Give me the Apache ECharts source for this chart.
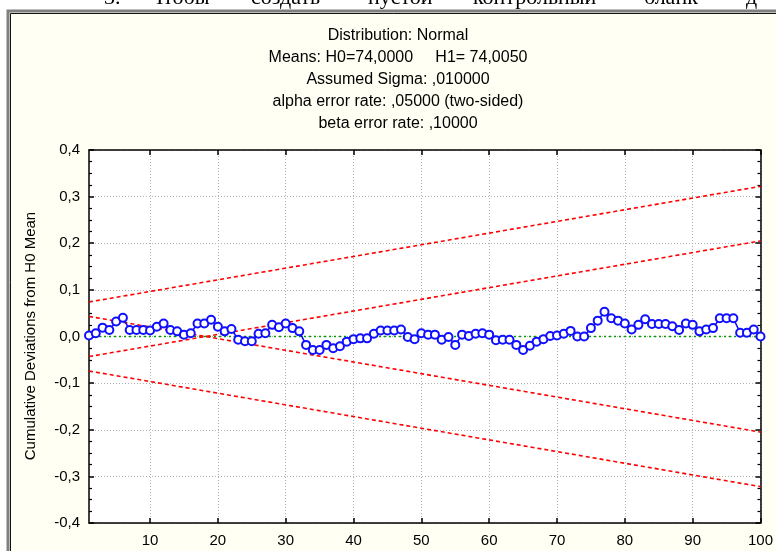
<!DOCTYPE html>
<html>
<head>
<meta charset="utf-8">
<script src="https://cdn.jsdelivr.net/npm/echarts@6/dist/echarts.min.js"></script>
<style>
  html, body { margin: 0; padding: 0; background: #ffffff; }
  #chart { width: 776px; height: 551px; }
</style>
</head>
<body>
<div id="chart"></div>
<script>
// Cumulative deviations from the H0 mean, samples 1..100
const cumulativeDeviations = [
  0.002, 0.007, 0.019, 0.014, 0.032, 0.040, 0.014, 0.014, 0.014, 0.013,
  0.021, 0.028, 0.014, 0.011, 0.004, 0.007, 0.028, 0.028, 0.036, 0.021,
  0.011, 0.016, -0.007, -0.010, -0.010, 0.006, 0.007, 0.025, 0.020, 0.028,
  0.018, 0.011, -0.018, -0.029, -0.029, -0.018, -0.025, -0.021, -0.011, -0.006,
  -0.004, -0.004, 0.006, 0.013, 0.013, 0.013, 0.015, -0.001, -0.006, 0.007,
  0.004, 0.004, -0.007, -0.001, -0.018, 0.004, 0.001, 0.006, 0.007, 0.004,
  -0.008, -0.007, -0.007, -0.018, -0.029, -0.020, -0.011, -0.006, 0.001, 0.002,
  0.006, 0.012, 0.000, 0.000, 0.018, 0.034, 0.053, 0.039, 0.034, 0.028,
  0.015, 0.025, 0.037, 0.027, 0.027, 0.027, 0.022, 0.014, 0.028, 0.025,
  0.011, 0.015, 0.018, 0.039, 0.039, 0.039, 0.008, 0.008, 0.015, 0.000
];
const sampleNumbers = cumulativeDeviations.map((_, i) => String(i + 1));

// Decision boundaries: value at the first and at the last sample
const boundaryEnds = ['1', '100'];
const upperOuterBoundary = [0.074, 0.322];
const upperInnerBoundary = [-0.043, 0.205];
const lowerInnerBoundary = [0.043, -0.205];
const lowerOuterBoundary = [-0.074, -0.322];
const targetLine = [0, 0];

const xTickLabels = [10, 20, 30, 40, 50, 60, 70, 80, 90, 100];
const yTickLabels = ['-0,4', '-0,3', '-0,2', '-0,1', '0,0', '0,1', '0,2', '0,3', '0,4'];

const titleLines = [
  'Distribution: Normal',
  'Means: H0=74,0000     H1= 74,0050',
  'Assumed Sigma: ,010000',
  'alpha error rate: ,05000 (two-sided)',
  'beta error rate: ,10000'
];
const headingWords = [
  ['3.', 104], ['Чтобы', 149], ['создать', 251], ['пустой', 368],
  ['контрольный', 473], ['бланк', 644], ['д', 746]
];

const FONT = '"Liberation Sans", Arial, sans-serif';
const isTickSample = (idx, val) => xTickLabels.indexOf(Number(val)) >= 0;

function pairs(values) {
  return boundaryEnds.map((x, i) => [x, values[i]]);
}

const chart = echarts.init(document.getElementById('chart'), null, { renderer: 'canvas' });

const graphics = [
  // window panel
  { type: 'rect', z: -10, shape: { x: 8, y: 11, width: 800, height: 600 },
    style: { fill: '#fffff4', stroke: '#7f7f7f', lineWidth: 3 } },
  { type: 'rect', z: -9, shape: { x: 10.5, y: 13.5, width: 800, height: 600 },
    style: { fill: null, stroke: '#111111', lineWidth: 1 } }
];
headingWords.forEach(([w, x]) => {
  graphics.push({ type: 'text', x: x, y: 9, style: {
    text: w, font: '22px "Liberation Serif", "Times New Roman", serif',
    fill: '#000', textAlign: 'left', textVerticalAlign: 'bottom' } });
});
titleLines.forEach((t, i) => {
  graphics.push({ type: 'text', x: 398, y: 36 + i * 22, style: {
    text: t, font: '16px ' + FONT, fill: '#000',
    textAlign: 'center', textVerticalAlign: 'middle' } });
});
graphics.push({ type: 'text', x: 31, y: 336, rotation: Math.PI / 2, style: {
  text: 'Cumulative Deviations from H0 Mean', font: '15px ' + FONT, fill: '#000',
  textAlign: 'center', textVerticalAlign: 'middle' } });

const redDash = { color: '#ff0000', width: 1.6, type: [4, 3] };

chart.setOption({
  backgroundColor: '#ffffff',
  animation: false,
  graphic: graphics,
  grid: { left: 89, top: 150, width: 673, height: 373, show: true,
          backgroundColor: '#ffffff', borderWidth: 0 },
  xAxis: [
    { type: 'category', data: sampleNumbers, boundaryGap: false, position: 'bottom',
      axisLine: { show: true, onZero: false, lineStyle: { color: '#000', width: 1.5 } },
      axisTick: { show: true, inside: true, length: 5, interval: isTickSample,
                  lineStyle: { color: '#000', width: 1.5 } },
      axisLabel: { show: true, interval: isTickSample, margin: 10, color: '#000',
                   fontSize: 15, fontFamily: FONT },
      splitLine: { show: true, interval: isTickSample,
                   lineStyle: { color: '#b0b0b0', width: 1, type: [1, 2] } } },
    { type: 'category', data: sampleNumbers, boundaryGap: false, position: 'top',
      axisLine: { show: true, onZero: false, lineStyle: { color: '#000', width: 1.5 } },
      axisTick: { show: true, inside: true, length: 5, interval: isTickSample,
                  lineStyle: { color: '#000', width: 1.5 } },
      axisLabel: { show: false }, splitLine: { show: false } }
  ],
  yAxis: [
    { type: 'value', min: -0.4, max: 0.4, interval: 0.1, position: 'left',
      axisLine: { show: true, onZero: false, lineStyle: { color: '#000', width: 1.5 } },
      axisTick: { show: true, inside: true, length: 5, lineStyle: { color: '#000', width: 1.5 } },
      minorTick: { show: true, splitNumber: 4, length: 3, lineStyle: { color: '#000', width: 1.2 } },
      axisLabel: { margin: 9, color: '#000', fontSize: 15, fontFamily: FONT,
                   formatter: (v) => yTickLabels[Math.round((v + 0.4) * 10)] },
      splitLine: { show: true, lineStyle: { color: '#b0b0b0', width: 1, type: [1, 2] } } },
    { type: 'value', min: -0.4, max: 0.4, interval: 0.1, position: 'right',
      axisLine: { show: true, onZero: false, lineStyle: { color: '#000', width: 1.5 } },
      axisTick: { show: true, inside: true, length: 5, lineStyle: { color: '#000', width: 1.5 } },
      minorTick: { show: true, splitNumber: 4, length: 3, lineStyle: { color: '#000', width: 1.2 } },
      axisLabel: { show: false }, splitLine: { show: false } }
  ],
  series: [
    { name: 'target', type: 'line', data: pairs(targetLine), symbol: 'none', z: 2,
      lineStyle: { color: '#00a000', width: 1.6, type: [2, 3] } },
    { name: 'upper outer', type: 'line', data: pairs(upperOuterBoundary), symbol: 'none', z: 3, lineStyle: redDash },
    { name: 'upper inner', type: 'line', data: pairs(upperInnerBoundary), symbol: 'none', z: 3, lineStyle: redDash },
    { name: 'lower inner', type: 'line', data: pairs(lowerInnerBoundary), symbol: 'none', z: 3, lineStyle: redDash },
    { name: 'lower outer', type: 'line', data: pairs(lowerOuterBoundary), symbol: 'none', z: 3, lineStyle: redDash },
    { name: 'cusum', type: 'line', data: cumulativeDeviations, z: 4,
      symbol: 'emptyCircle', symbolSize: 8, showAllSymbol: true,
      itemStyle: { color: '#1010ff', borderWidth: 1.6 },
      lineStyle: { color: '#1010ff', width: 1.6 } }
  ]
});
</script>
</body>
</html>
